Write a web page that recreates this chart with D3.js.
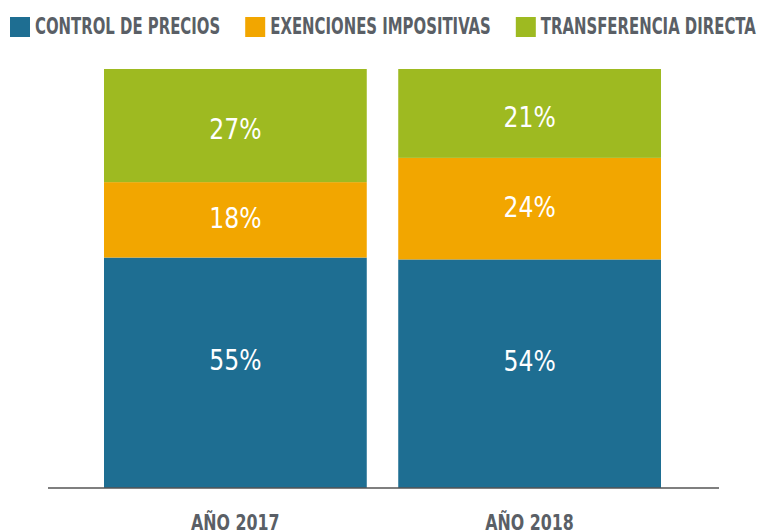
<!DOCTYPE html>
<html>
<head>
<meta charset="utf-8">
<script src="https://cdn.jsdelivr.net/npm/d3@7"></script>
<style>
  body { margin: 0; background: #fff; }
  svg { display: block; }
  .legend text, .xlabel { font-family: "DejaVu Sans Condensed", "DejaVu Sans", sans-serif; font-weight: bold; fill: #5a5f66; }
  .val { font-family: "DejaVu Sans Condensed", "DejaVu Sans", sans-serif; fill: #fff; }
</style>
</head>
<body>
<div id="chart"></div>
<script>
// datos
const years = ['AÑO 2017', 'AÑO 2018'];
const series = ['CONTROL DE PRECIOS', 'EXENCIONES IMPOSITIVAS', 'TRANSFERENCIA DIRECTA'];
const controlPrecios = [55, 54];
const exenciones = [18, 24];
const transferencia = [27, 21];
const colors = ['#1e6e92', '#f2a600', '#9eba21'];
// desplazamiento vertical de las etiquetas por serie (como en el original)
const labelShift = [-13, -2, 3];

const WIDTH = 772, HEIGHT = 532;

const svg = d3.select('#chart').append('svg')
    .attr('width', WIDTH)
    .attr('height', HEIGHT);

// comprime horizontalmente el texto (la fuente original es condensada)
function squeeze(sel, k) {
    sel.each(function() {
        const w = this.getComputedTextLength();
        d3.select(this)
            .attr('textLength', w * k)
            .attr('lengthAdjust', 'spacingAndGlyphs');
    });
}

const rows = years.map((y, i) => ({
    year: y,
    [series[0]]: controlPrecios[i],
    [series[1]]: exenciones[i],
    [series[2]]: transferencia[i]
}));

// cada barra se normaliza a su total (la de 2018 suma 99)
const stacked = d3.stack().keys(series).offset(d3.stackOffsetExpand)(rows);

const x = d3.scaleBand().domain(years).range([104, 661]).paddingInner(0.107).paddingOuter(0);
const y = d3.scaleLinear().domain([0, 1]).range([488, 69]);
const color = d3.scaleOrdinal().domain(series).range(colors);

const layers = svg.selectAll('g.layer')
    .data(stacked)
    .join('g')
        .attr('class', 'layer')
        .attr('fill', d => color(d.key));

layers.selectAll('rect')
    .data(d => d)
    .join('rect')
        .attr('x', d => x(d.data.year))
        .attr('y', d => y(d[1]))
        .attr('width', x.bandwidth())
        .attr('height', d => y(d[0]) - y(d[1]));

// etiquetas de porcentaje
const vals = layers.selectAll('text')
    .data(d => d.map(p => ({p, key: d.key, idx: d.index})))
    .join('text')
        .attr('class', 'val')
        .attr('x', d => x(d.p.data.year) + x.bandwidth() / 2)
        .attr('y', d => (y(d.p[0]) + y(d.p[1])) / 2 + labelShift[d.idx])
        .attr('dy', '0.36em')
        .attr('text-anchor', 'middle')
        .style('font-size', '29px')
        .text(d => d.p.data[d.key] + '%');
squeeze(vals, 0.9);

// eje x
const xAxis = svg.append('g').attr('transform', 'translate(0,488)');
xAxis.append('line')
    .attr('x1', 48).attr('x2', 719)
    .attr('stroke', '#555').attr('stroke-width', 1.5);

const xlabels = svg.selectAll('text.xlabel')
    .data(years)
    .join('text')
        .attr('class', 'xlabel')
        .attr('x', d => x(d) + x.bandwidth() / 2)
        .attr('y', 530)
        .attr('text-anchor', 'middle')
        .style('font-size', '22px')
        .text(d => d);
squeeze(xlabels, 0.8);

// leyenda
const legend = svg.append('g').attr('class', 'legend');
let lx = 10;
series.forEach(s => {
    const item = legend.append('g').attr('transform', `translate(${lx},0)`);
    item.append('rect')
        .attr('x', 0).attr('y', 17)
        .attr('width', 20).attr('height', 20)
        .attr('fill', color(s));
    const t = item.append('text')
        .attr('x', 25).attr('y', 34)
        .style('font-size', '23px')
        .text(s);
    squeeze(t, 0.72);
    lx += 25 + t.node().getComputedTextLength() + 25;
});
</script>
</body>
</html>
